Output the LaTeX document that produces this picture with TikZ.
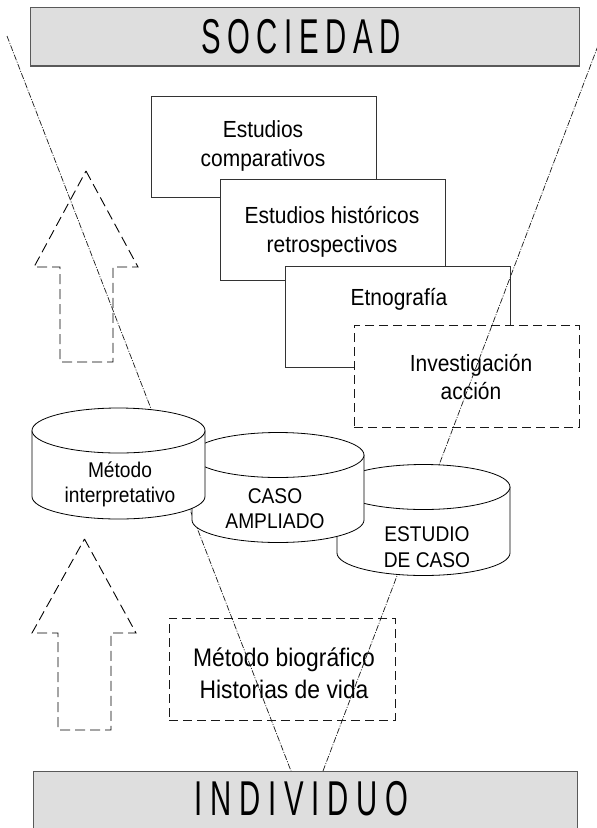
\documentclass[tikz,border=0pt]{standalone}
\usepackage{fontspec}
\setmainfont{Liberation Sans}
\newfontfamily\labfont[FakeStretch=0.9]{Liberation Sans}
\newfontfamily\banfont[FakeStretch=0.6,LetterSpace=16]{Liberation Sans}
\newfontfamily\banfontb[FakeStretch=0.6,LetterSpace=13.5]{Liberation Sans}
\definecolor{bfill}{RGB}{222,222,222}
\tikzset{
  x=1pt, y=-1pt,
  banner/.style={draw=black!65, line width=1.4pt, fill=bfill},
  bantext/.style={font={\banfont\fontsize{48.9pt}{50pt}\selectfont}, inner sep=0pt},
  box/.style={rectangle, draw=black!80, line width=0.9pt, fill=white,
    minimum width=225pt, minimum height=101pt, inner sep=0pt},
  dbox/.style={box, draw=black!90, dash pattern=on 9pt off 5pt},
  lbl/.style={font={\labfont\fontsize{23.3pt}{29pt}\selectfont}, align=center, inner sep=0pt},
  blbl/.style={font={\labfont\fontsize{25.4pt}{31.7pt}\selectfont}, align=center, inner sep=0pt},
  clbl/.style={font={\labfont\fontsize{21.3pt}{25.5pt}\selectfont}, align=center, inner sep=0pt},
  guide/.style={draw=black!90, line width=0.7pt, dash pattern=on 6pt off 1.5pt on 1pt off 1.5pt},
  cyl/.style={draw=black, line width=0.8pt, fill=white},
  blockarrow/.style={draw=black, line width=0.9pt, dash pattern=on 10pt off 5pt},
}
\newcommand\mycyl[5]{%
  \filldraw[cyl] (#1-#3,#2) -- (#1-#3,#2+#5)
    arc[start angle=180,end angle=0,x radius=#3,y radius=#4]
    -- (#1+#3,#2)
    arc[start angle=0,end angle=-180,x radius=#3,y radius=#4] -- cycle;
  \draw[cyl] (#1-#3,#2) arc[start angle=180,end angle=0,x radius=#3,y radius=#4];
}
\begin{document}
\begin{tikzpicture}
\useasboundingbox (0,0) rectangle (597,828);
\clip (0,0) rectangle (597,828);

% banners
\node[banner, rectangle, minimum width=549pt, minimum height=58.5pt, inner sep=0pt, anchor=north west] (top) at (30,6.7) {};
\node[bantext, font={\banfontb\fontsize{48.9pt}{50pt}\selectfont}, anchor=base west] (soc) at (201,53.3) {SOCIEDAD};
\node[banner, rectangle, minimum width=544pt, minimum height=70pt, inner sep=0pt, anchor=north west] (bot) at (33,771) {};
\node[bantext, anchor=base west] (ind) at (194,815) {INDIVIDUO};

% stacked boxes
\node[box] (b1) at (264,147) {};
\node[lbl] (t1) at (263,145.5) {Estudios\\comparativos};
\node[box] (b2) at (332.5,229.5) {};
\node[lbl] (t2) at (332,231.5) {Estudios históricos\\retrospectivos};
\node[box] (b3) at (397.5,316.5) {};
\node[lbl, anchor=base] (t3) at (399,305) {Etnografía};
\node[dbox, minimum height=102pt] (b4) at (466.5,376) {};
\node[lbl, font={\labfont\fontsize{23.3pt}{28.3pt}\selectfont}] (t4) at (471,377.3) {Investigación\\acción};
\node[dbox, minimum width=226pt, minimum height=102pt] (b5) at (282,669) {};
\node[blbl] (t5) at (284,673.6) {Método biográfico\\Historias de vida};

% guide lines
\coordinate (lt) at (7,36);
\coordinate (lb) at (291,771);
\coordinate (rt) at (601.7,36);
\coordinate (rb) at (323,771);
\draw[guide] (lt) -- (lb);
\draw[guide] (rt) -- (rb);

% cylinders
\mycyl{423.5}{487}{86.5}{22.5}{66}
\node[clbl] (c3) at (427,547.4) {ESTUDIO\\DE CASO};
\mycyl{278}{455}{86}{22.5}{65}
\node[clbl] (c2) at (275,508.7) {CASO\\AMPLIADO};
\mycyl{118.5}{430.5}{86.5}{22.5}{66}
\node[clbl] (c1) at (120,484.5) {Método\\interpretativo};

% dashed block arrows
\draw[blockarrow] (86,171) -- (138,267) -- (113,267) -- (113,362) -- (60,362) -- (60,267) -- (34,267) -- cycle;
\draw[blockarrow] (84.5,539) -- (136,633) -- (111,633) -- (111,730) -- (58,730) -- (58,633) -- (32,633) -- cycle;
\end{tikzpicture}
\end{document}
